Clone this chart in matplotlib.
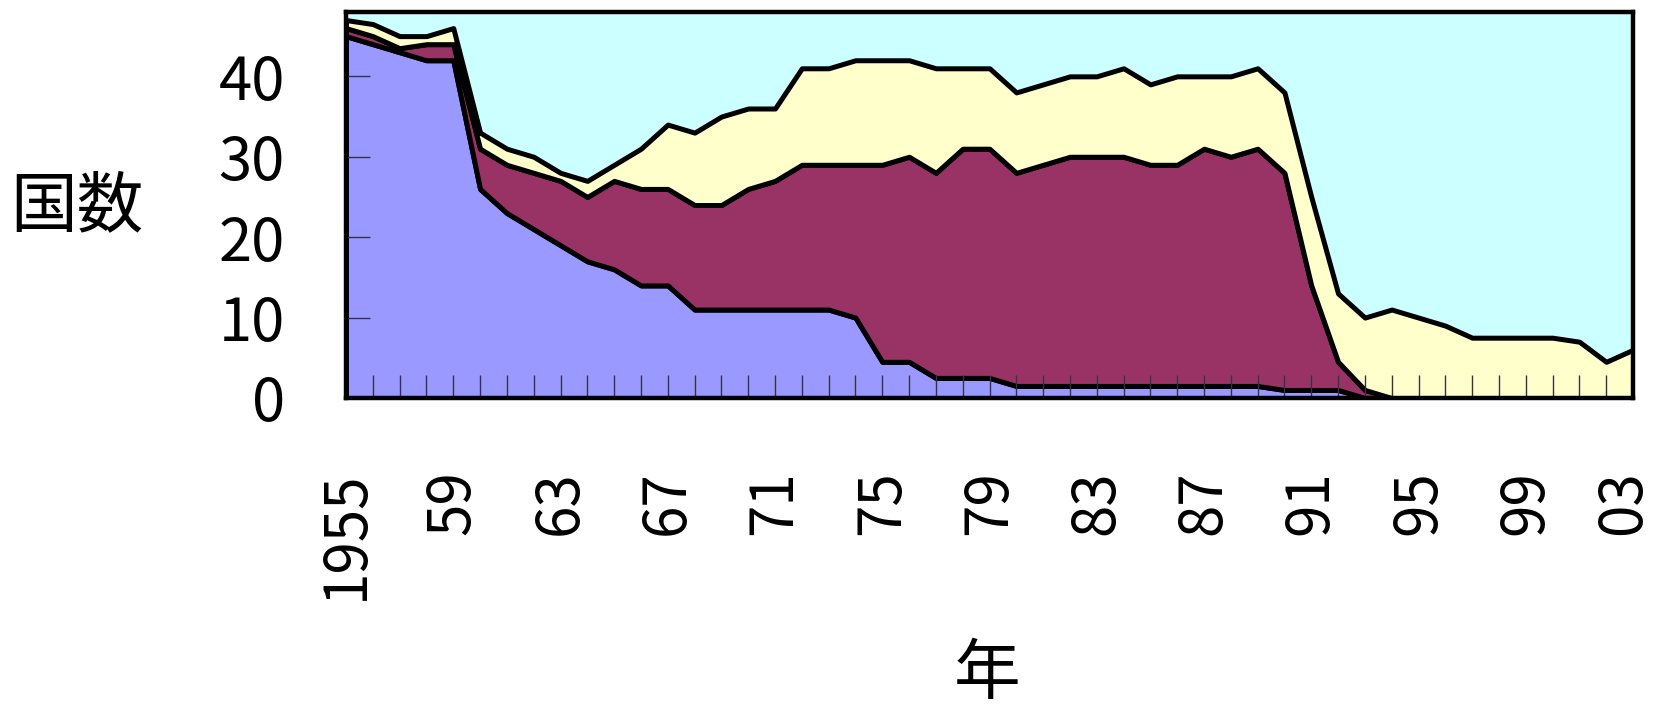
import matplotlib
matplotlib.use("Agg")
import matplotlib.pyplot as plt
from matplotlib.transforms import ScaledTranslation

plt.rcParams['font.family'] = ['Noto Sans CJK JP', 'DejaVu Sans']

years = list(range(1955, 2004))

# number of countries in each group, per year (stacked bottom to top)
group_a = [45, 44, 43, 42, 42, 26, 23, 21, 19, 17,
           16, 14, 14, 11, 11, 11, 11, 11, 11, 10,
           4.5, 4.5, 2.5, 2.5, 2.5, 1.5, 1.5, 1.5, 1.5, 1.5,
           1.5, 1.5, 1.5, 1.5, 1.5, 1, 1, 1, 0, 0,
           0, 0, 0, 0, 0, 0, 0, 0, 0]
group_b = [1, 1, 0.5, 2, 2, 5, 6, 7, 8, 8,
           11, 12, 12, 13, 13, 15, 16, 18, 18, 19,
           24.5, 25.5, 25.5, 28.5, 28.5, 26.5, 27.5, 28.5, 28.5, 28.5,
           27.5, 27.5, 29.5, 28.5, 29.5, 27, 13, 3.5, 1, 0,
           0, 0, 0, 0, 0, 0, 0, 0, 0]
group_c = [1, 1.5, 1.5, 1, 2, 2, 2, 2, 1, 2,
           2, 5, 8, 9, 11, 10, 9, 12, 12, 13,
           13, 12, 13, 10, 10, 10, 10, 10, 10, 11,
           10, 11, 9, 10, 10, 10, 11, 8.5, 9, 11,
           10, 9, 7.5, 7.5, 7.5, 7.5, 7, 4.5, 6]

y_ticks = [0, 10, 20, 30, 40]
x_label_years = list(range(1955, 2004, 4))
x_tick_labels = ['1955'] + [f"{y % 100:02d}" for y in x_label_years[1:]]

colors = ['#9999FF', '#993366', '#FFFFCC']
background = '#CCFFFF'

fig = plt.figure(figsize=(16.55, 7.07), dpi=100)
ax = fig.add_axes([346 / 1655, 1 - 398 / 707, (1633 - 346) / 1655, (398 - 12) / 707])
ax.set_facecolor(background)

ax.stackplot(years, group_a, group_b, group_c, colors=colors,
             edgecolor='black', linewidth=3.6)

ax.set_xlim(1955, 2003)
ax.set_ylim(0, 48)

ax.set_yticks(y_ticks)
ax.set_yticklabels([str(v) for v in y_ticks])
ax.set_xticks(years)
labels = []
for y in years:
    if y in x_label_years:
        labels.append(x_tick_labels[x_label_years.index(y)])
    else:
        labels.append('')
ax.set_xticklabels(labels, rotation=90, va='top', ha='center')

ax.tick_params(axis='y', direction='in', length=17, width=1.0, color='#333344',
               labelsize=43, pad=44, right=False)
ax.tick_params(axis='x', direction='in', length=16.5, width=1.0, color='#333344',
               labelsize=42, pad=52, top=False)

# keep the last year label inside the figure edge
last = ax.get_xticklabels()[-1]
last.set_transform(last.get_transform() + ScaledTranslation(-9 / 100, 0, fig.dpi_scale_trans))

for side in ['left', 'right', 'top', 'bottom']:
    ax.spines[side].set_linewidth(3.2)
    ax.spines[side].set_color('black')
    ax.spines[side].set_zorder(5)

fig.text(77 / 1655, 1 - 207 / 707, '国数', fontsize=48, ha='center', va='center')
fig.text(987 / 1655, 1 - 675 / 707, '年', fontsize=48, ha='center', va='center')

fig.savefig('out.png', dpi=100)
